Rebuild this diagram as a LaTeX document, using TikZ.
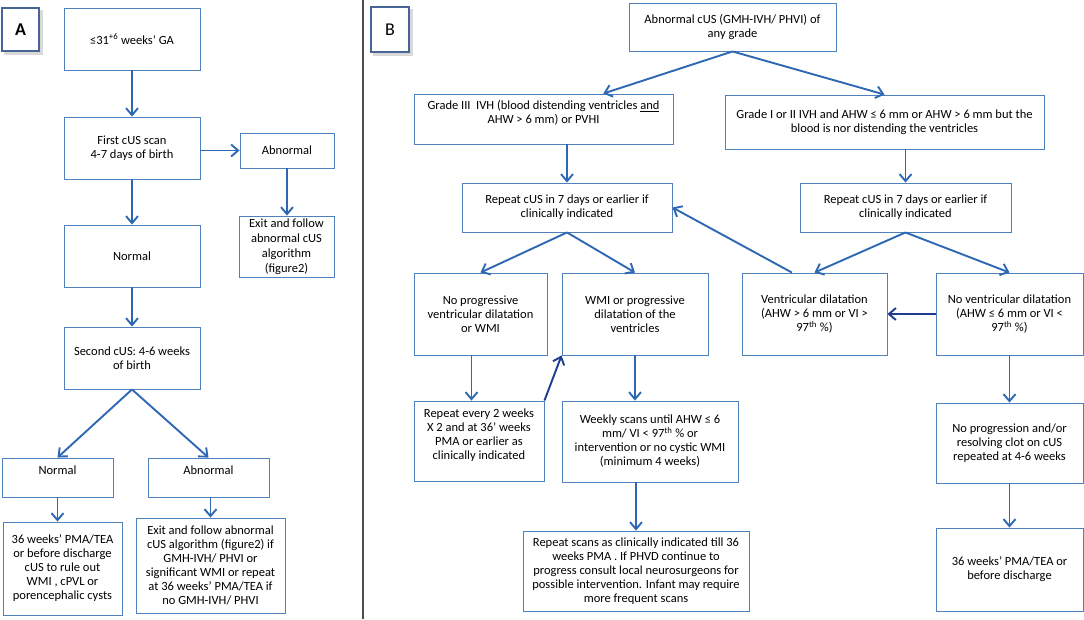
\documentclass[tikz,border=0pt]{standalone}
\usepackage{fontspec}
\setmainfont{Carlito}
\usetikzlibrary{arrows.meta,calc}
\definecolor{boxblue}{RGB}{79,129,189}
\definecolor{arrblue}{RGB}{46,104,180}
\definecolor{darkarr}{RGB}{30,60,145}
\definecolor{labblue}{RGB}{70,100,150}
\begin{document}
\begin{tikzpicture}[x=1pt,y=-1pt,
  box/.style={draw=boxblue, line width=0.9pt, fill=white, align=center, inner sep=1pt,
    font=\fontsize{12.5}{14}\selectfont, text=black},
  labbox/.style={draw=labblue, line width=1.1pt, fill=white, inner sep=0pt,
    font=\fontsize{18}{20}\selectfont},
  arr/.style={draw=arrblue, line width=1.9pt, -{Straight Barb[length=7pt,width=12pt]}},
  darr/.style={arr, draw=darkarr},
  divider/.style={draw=black!70, line width=1.2pt}]
\useasboundingbox (0,0) rectangle (1084,619);
\fill[white] (0,0) rectangle (1084,619);
\draw[divider] (363,0) -- (363,619);

% ---------------- Panel A ----------------
\fill[black!15] (22.5,31.5) ++(-18.5,-21.5) rectangle ++(38.5,44.5);
\node[labbox, minimum width=37pt, minimum height=43pt] (labA) at (20.5,29.5) {\bfseries A};
\node[box, minimum width=136pt, minimum height=62pt] (ga) at (132,39) {≤31\textsuperscript{+6} weeks’ GA};
\node[box, minimum width=136pt, minimum height=62pt] (fc) at (132,148) {First cUS scan\\4-7 days of birth};
\node[box, minimum width=94pt, minimum height=35pt] (abA) at (287,150.5) {Abnormal};
\node[box, minimum width=95pt, minimum height=61pt, font=\fontsize{12.5}{15}\selectfont] (exA) at (286.5,246.5) {Exit and follow\\abnormal cUS\\algorithm\\(figure2)};
\node[box, minimum width=136pt, minimum height=62pt] (nmA) at (132,256) {Normal};
\node[box, minimum width=136pt, minimum height=62pt] (sc) at (132,358) {Second cUS: 4-6 weeks\\of birth};
\node[box, minimum width=111pt, minimum height=39pt] (nA2) at (57.5,477.5) {Normal\\\mbox{}};
\node[box, minimum width=121pt, minimum height=39pt] (abA2) at (208.5,477.5) {Abnormal\\\mbox{}};
\node[box, minimum width=119pt, minimum height=93pt] (blA) at (62.5,568.5) {36 weeks’ PMA/TEA\\or before discharge\\cUS to rule out\\WMI , cPVL or\\porencephalic cysts};
\node[box, minimum width=149pt, minimum height=95pt] (brA) at (210.5,565.5) {Exit and follow abnormal\\cUS algorithm (figure2) if\\GMH-IVH/ PHVI or\\significant WMI or repeat\\at 36 weeks’ PMA/TEA if\\no GMH-IVH/ PHVI};

\draw[arr] (ga.south) -- (fc.north);
\draw[arr] (fc.east |- abA.west) -- (abA.west);
\draw[arr] (abA.south) -- (abA.south |- exA.north);
\draw[arr] (fc.south) -- (nmA.north);
\draw[arr] (nmA.south) -- (sc.north);
\draw[arr] (sc.south) -- (nA2.north);
\draw[arr] (sc.south) -- (abA2.north);
\draw[arr] (nA2.south) -- (nA2.south |- blA.north);
\draw[arr] (brA.north |- abA2.south) -- (brA.north);

% ---------------- Panel B ----------------
\fill[black!15] (392,31.5) ++(-19,-22.5) rectangle ++(39.5,46.5);
\node[labbox, minimum width=38pt, minimum height=45pt] (labB) at (390,29.5) {B};
\node[box, minimum width=207pt, minimum height=48pt] (top) at (732.5,27) {Abnormal cUS (GMH-IVH/ PHVI) of\\any grade};
\node[box, minimum width=259pt, minimum height=50pt] (g3) at (543.5,119) {Grade III\ \ IVH (blood distending ventricles \underline{and}\\AHW > 6 mm) or PVHI\\\mbox{}};
\node[box, minimum width=319pt, minimum height=54pt] (g1) at (884.5,122) {Grade I or II IVH and AHW ≤ 6 mm or AHW > 6 mm but the\\blood is nor distending the ventricles};
\node[box, minimum width=210pt, minimum height=49pt] (rep1) at (567,207.5) {Repeat cUS in 7 days or earlier if\\clinically indicated};
\node[box, minimum width=211pt, minimum height=49pt] (rep2) at (905.5,207.5) {Repeat cUS in 7 days or earlier if\\clinically indicated};
\node[box, minimum width=133pt, minimum height=82pt] (np) at (480.5,314) {No progressive\\ventricular dilatation\\or WMI};
\node[box, minimum width=146pt, minimum height=82pt] (wmi) at (635,314) {WMI or progressive\\dilatation of the\\ventricles};
\node[box, minimum width=145pt, minimum height=82pt] (vd) at (814.5,314) {Ventricular dilatation\\(AHW > 6 mm or VI >\\97\textsuperscript{th}\ \%)};
\node[box, minimum width=147pt, minimum height=82pt] (nvd) at (1009.5,314) {No ventricular dilatation\\(AHW ≤ 6 mm or VI <\\97\textsuperscript{th}\ \%)};
\node[box, minimum width=130pt, minimum height=80pt] (r2w) at (479,441) {Repeat every 2 weeks\\X 2 and at 36’ weeks\\PMA or earlier as\\clinically indicated\\\mbox{}};
\node[box, minimum width=176pt, minimum height=81pt] (wk) at (650,441.5) {Weekly scans until AHW ≤ 6\\mm/ VI < 97\textsuperscript{th}\ \% or\\intervention or no cystic WMI\\(minimum 4 weeks)};
\node[box, minimum width=226pt, minimum height=80pt] (rs) at (636,571) {Repeat scans as clinically indicated till 36\\weeks PMA . If PHVD continue to\\progress consult local neurosurgeons for\\possible intervention. Infant may require\\more frequent scans};
\node[box, minimum width=147pt, minimum height=80pt] (npr) at (1009.5,443) {No progression and/or\\resolving clot on cUS\\repeated at 4-6 weeks};
\node[box, minimum width=147pt, minimum height=83pt] (w36) at (1009.5,569.5) {36 weeks’ PMA/TEA or\\before discharge};

\draw[arr] (top.south) -- ($(g3.north west)!0.73!(g3.north east)$);
\draw[arr] (top.south) -- (g1.north);
\draw[arr] (rep1.north |- g3.south) -- (rep1.north);
\draw[arr] (rep2.north |- g1.south) -- (rep2.north);
\draw[arr] (rep1.south) -- (np.north);
\draw[arr] (rep1.south) -- (wmi.north);
\draw[arr] (rep2.south) -- (vd.north);
\draw[arr] (rep2.south) -- (nvd.north);
\draw[arr] ($(vd.north west)!0.345!(vd.north east)$) -- (rep1.east);
\draw[darr] (nvd.west) -- (vd.east);
\draw[arr] ([xshift=-9pt]np.south) -- ([xshift=-9pt]np.south |- r2w.north);
\draw[darr] (r2w.north east) -- (wmi.south west);
\draw[arr] (wmi.south) -- (wmi.south |- wk.north);
\draw[arr] (rs.north |- wk.south) -- (rs.north);
\draw[arr] (nvd.south) -- (npr.north);
\draw[arr] (npr.south) -- (w36.north);
\end{tikzpicture}
\end{document}
